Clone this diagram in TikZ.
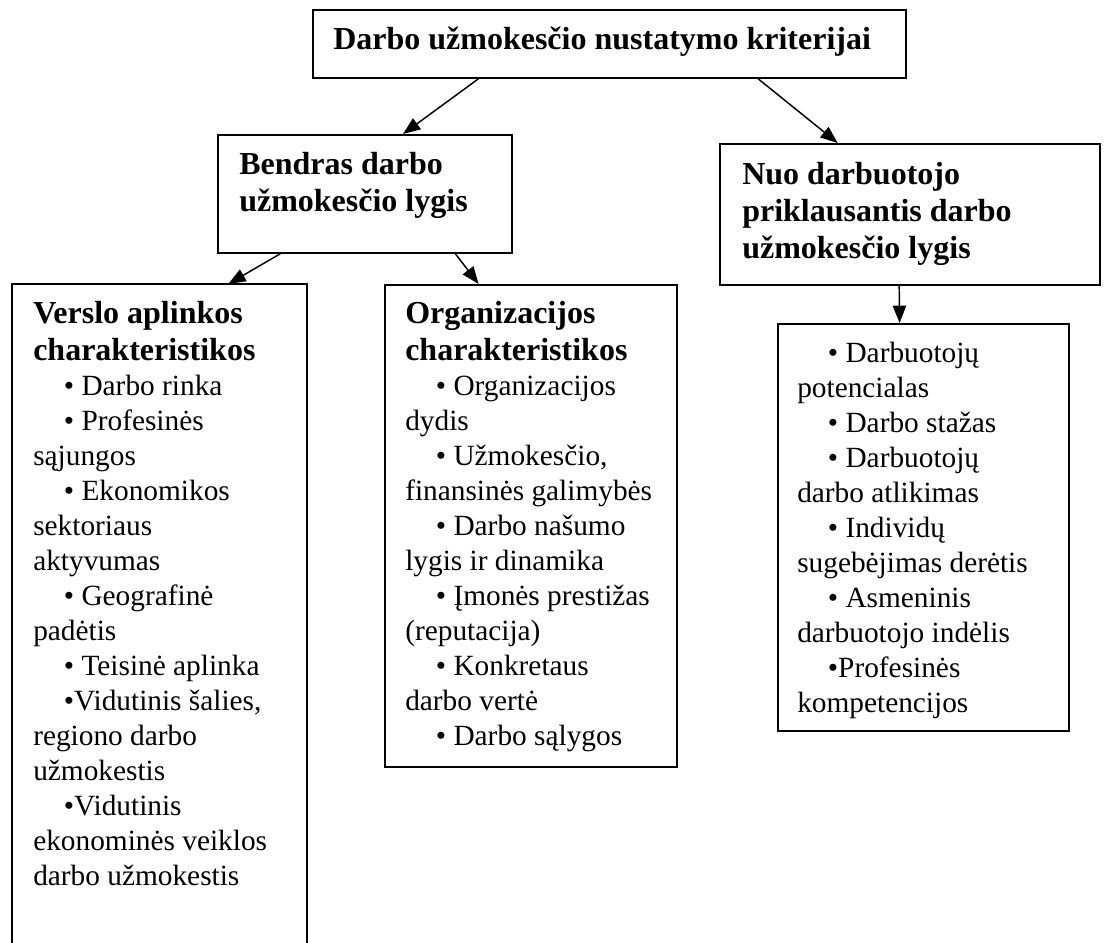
\documentclass[tikz,border=0pt]{standalone}
\usepackage{fontspec}
\setmainfont{Liberation Serif}
\usetikzlibrary{arrows.meta,calc}

% type sizes for the headings and the listed items
\newcommand\headfont{\fontsize{24}{27.8}\selectfont\bfseries}
\newcommand\bodyfont{\fontsize{22}{26.25}\selectfont\mdseries}
% indent in front of each bullet
\newcommand\bul{\hspace*{23pt}}
% a block of left-aligned lines whose baseline is the first line
\newcommand\boxtext[1]{\vtop{\hsize=600pt\parindent=0pt\parskip=0pt\hyphenpenalty=10000 #1\par}}

\begin{document}
\begin{tikzpicture}[x=0.75pt,y=-0.75pt,
  box/.style={draw,line width=1.3pt,rectangle,inner sep=0pt,anchor=north west},
  txt/.style={anchor=base west,inner sep=0pt},
  arr/.style={line width=1.1pt,-{Triangle[length=13pt,width=10pt]}}]

\useasboundingbox (0,0) rectangle (1105,942);
\fill[white] (0,0) rectangle (1105,942);

% boxes
\node[box,minimum width=444.75pt,minimum height=51pt] (top) at (312,9) {};
\node[box,minimum width=220.5pt,minimum height=88.5pt] (bend) at (217,134) {};
\node[box,minimum width=285pt,minimum height=105.75pt] (nuo) at (719,143) {};
\node[box,draw=none,minimum width=219.75pt,minimum height=493.5pt] (vers) at (12,284) {};
\draw[line width=1.3pt] (vers.south west) -- (vers.north west) -- (vers.north east) -- (vers.south east);
\node[box,minimum width=219pt,minimum height=361.5pt] (org) at (384,284) {};
\node[box,minimum width=218.25pt,minimum height=305.25pt] (pers) at (777,323) {};

% texts
\node[txt] (toptext) at (333,50) {\boxtext{\headfont Darbo užmokesčio nustatymo kriterijai}};
\node[txt] (bendtext) at (239,174) {\boxtext{\headfont Bendras darbo\par užmokesčio lygis}};
\node[txt] (nuotext) at (742,184) {\boxtext{\headfont Nuo darbuotojo\par priklausantis darbo\par užmokesčio lygis}};
\node[txt] (verstext) at (33,323) {\boxtext{\headfont Verslo aplinkos\par charakteristikos\par
  \bodyfont
  \bul• Darbo rinka\par
  \bul• Profesinės\par
  sąjungos\par
  \bul• Ekonomikos\par
  sektoriaus\par
  aktyvumas\par
  \bul• Geografinė\par
  padėtis\par
  \bul• Teisinė aplinka\par
  \bul•Vidutinis šalies,\par
  regiono darbo\par
  užmokestis\par
  \bul•Vidutinis\par
  ekonominės veiklos\par
  darbo užmokestis}};
\node[txt] (orgtext) at (405,323) {\boxtext{\headfont Organizacijos\par charakteristikos\par
  \bodyfont
  \bul• Organizacijos\par
  dydis\par
  \bul• Užmokesčio,\par
  finansinės galimybės\par
  \bul• Darbo našumo\par
  lygis ir dinamika\par
  \bul• Įmonės prestižas\par
  (reputacija)\par
  \bul• Konkretaus\par
  darbo vertė\par
  \bul• Darbo sąlygos}};
\node[txt] (perstext) at (797,362) {\boxtext{\bodyfont
  \bul• Darbuotojų\par
  potencialas\par
  \bul• Darbo stažas\par
  \bul• Darbuotojų\par
  darbo atlikimas\par
  \bul• Individų\par
  sugebėjimas derėtis\par
  \bul• Asmeninis\par
  darbuotojo indėlis\par
  \bul•Profesinės\par
  kompetencijos}};

% connectors
\draw[arr] ($(top.south west)!0.280!(top.south east)$) -- ($(bend.north west)!0.629!(bend.north east)$);
\draw[arr] ($(top.south west)!0.750!(top.south east)$) -- ($(nuo.north west)!0.311!(nuo.north east)$);
\draw[arr] ($(bend.south west)!0.214!(bend.south east)$) -- ($(vers.north west)!0.734!(vers.north east)$);
\draw[arr] ($(bend.south west)!0.806!(bend.south east)$) -- ($(org.north west)!0.322!(org.north east)$);
\draw[arr] ($(nuo.south west)!0.472!(nuo.south east)$) -- ($(pers.north west)!0.419!(pers.north east)$);
\end{tikzpicture}
\end{document}
